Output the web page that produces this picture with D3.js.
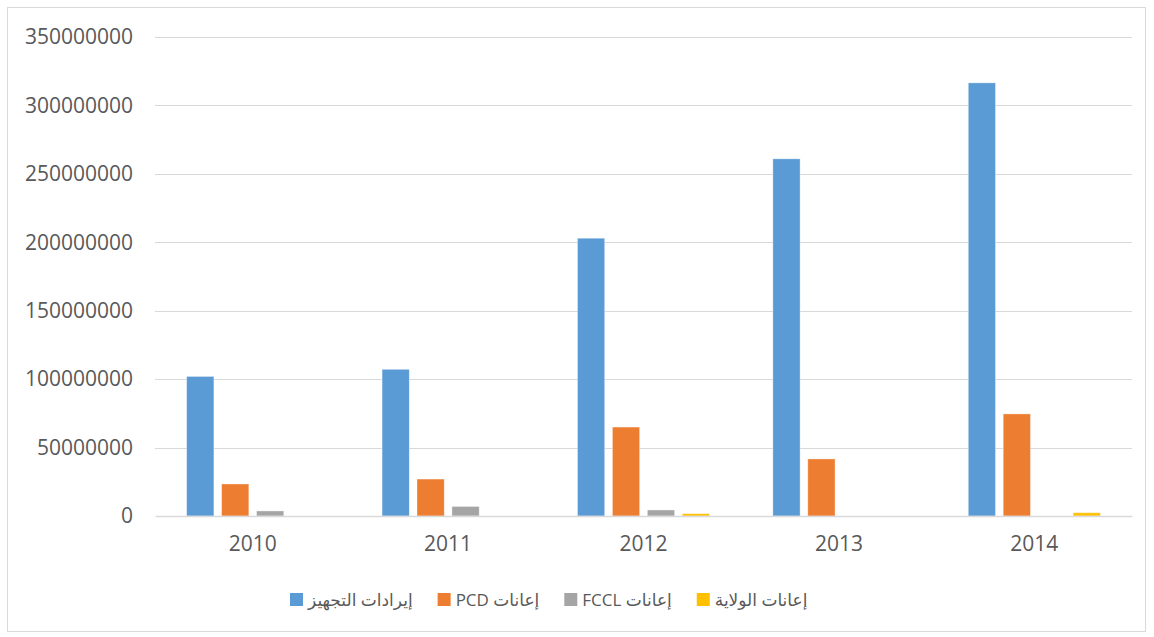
<!DOCTYPE html>
<html>
<head>
<meta charset="utf-8">
<script src="https://cdn.jsdelivr.net/npm/d3@7"></script>
<style>
  body { margin: 0; background: #fff; }
  svg { display: block; font-family: "Open Sans", "DejaVu Sans", sans-serif; }
</style>
</head>
<body>
<div class="graph"></div>
<script>
// data
const years = ["2010", "2011", "2012", "2013", "2014"];
const seriesNames = ["إيرادات التجهيز", "إعانات PCD", "إعانات FCCL", "إعانات الولاية"];
const equipRevenue = [102000000, 107200000, 203000000, 261000000, 316500000];
const pcdGrants = [23400000, 27000000, 65000000, 41700000, 74600000];
const fcclGrants = [3700000, 7000000, 4400000, 0, 0];
const wilayaGrants = [0, 0, 1700000, 0, 2400000];
const yTicks = [0, 50000000, 100000000, 150000000, 200000000, 250000000, 300000000, 350000000];
const colors = ["#5B9BD5", "#ED7D31", "#A5A5A5", "#FFC000"];

function main() {
  //setting
  const width = 1154;
  const height = 637;
  const left = 155, right = 1132, top = 37, bottom = 516;
  const allSeries = [equipRevenue, pcdGrants, fcclGrants, wilayaGrants];

  const svg = d3.select(".graph").append("svg")
    .attr("width", width)
    .attr("height", height);

  // chart border
  svg.append("rect")
    .attr("x", 7.5).attr("y", 7.5)
    .attr("width", 1138).attr("height", 624)
    .attr("fill", "#fff")
    .attr("stroke", "#d9d9d9");

  //scales
  const xScale = d3.scaleBand().domain(years).range([left, right]);
  const xInner = d3.scaleBand()
    .domain(d3.range(4))
    .range([0, xScale.bandwidth()])
    .paddingInner(0.22)
    .paddingOuter(0.906);
  const yScale = d3.scaleLinear().domain([0, 350000000]).range([bottom, top]);

  //grid
  svg.append("g")
    .selectAll("line")
    .data(yTicks.slice(1))
    .enter()
    .append("line")
    .attr("x1", left).attr("x2", right)
    .attr("y1", d => Math.round(yScale(d)) + 0.5)
    .attr("y2", d => Math.round(yScale(d)) + 0.5)
    .attr("stroke", "#d9d9d9")
    .attr("stroke-width", 1.2);

  //y labels
  const yAxis = d3.axisLeft(yScale)
    .tickValues(yTicks)
    .tickFormat(d3.format("d"))
    .tickSize(0)
    .tickPadding(22);
  const yg = svg.append("g")
    .attr("transform", "translate(" + left + ",0)")
    .call(yAxis);
  yg.select(".domain").remove();
  yg.selectAll("text")
    .attr("fill", "#595959")
    .style("font-size", "21px")
    .style("font-family", "'Open Sans', sans-serif");

  //bars
  const groups = svg.append("g")
    .selectAll("g")
    .data(years)
    .enter()
    .append("g")
    .attr("transform", d => "translate(" + xScale(d) + ",0)");
  groups.selectAll("rect")
    .data((d, i) => allSeries.map((s, k) => ({ k: k, v: s[i] })))
    .enter()
    .append("rect")
    .attr("x", d => xInner(d.k))
    .attr("width", xInner.bandwidth())
    .attr("y", d => yScale(d.v))
    .attr("height", d => bottom - yScale(d.v))
    .attr("fill", d => colors[d.k])
    .attr("stroke", "#fff")
    .attr("stroke-opacity", 0.5)
    .attr("stroke-width", 0.75)
    .style("display", d => (d.v > 0 ? null : "none"));

  //x axis
  const xAxis = d3.axisBottom(xScale).tickSize(0).tickPadding(20);
  const xg = svg.append("g")
    .attr("transform", "translate(0," + bottom + ")")
    .call(xAxis);
  xg.select(".domain")
    .attr("stroke", "#d9d9d9")
    .attr("stroke-width", 1.5);
  xg.selectAll("text")
    .attr("fill", "#595959")
    .style("font-size", "21px")
    .style("font-family", "'Open Sans', sans-serif");

  //legend
  const legend = svg.append("g").attr("transform", "translate(0,600)");
  let lx = 290;
  seriesNames.forEach((name, k) => {
    legend.append("rect")
      .attr("x", lx).attr("y", -7)
      .attr("width", 13).attr("height", 13)
      .attr("fill", colors[k]);
    const t = legend.append("text")
      .attr("x", lx + 18)
      .attr("y", 0)
      .attr("dy", "0.35em")
      .attr("fill", "#595959")
      .style("font-size", "17px")
      .style("direction", "rtl")
      .style("unicode-bidi", "embed")
      .attr("text-anchor", "end")
      .text(name);
    const w = t.node().getComputedTextLength();
    lx += 18 + w + 25;
  });
}

main();
</script>
</body>
</html>
